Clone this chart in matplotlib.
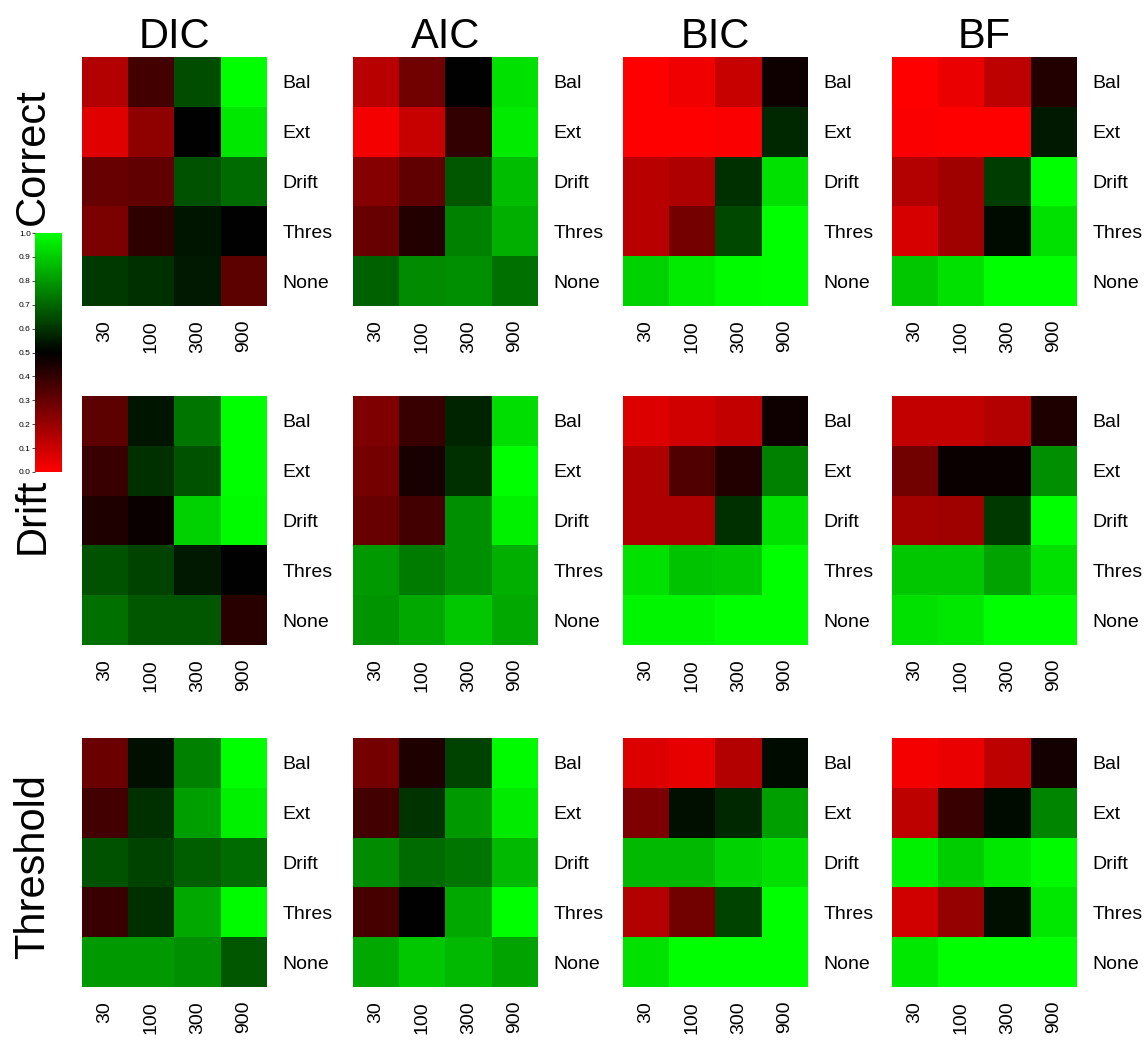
import matplotlib
matplotlib.use('Agg')
import matplotlib.pyplot as plt
import numpy as np
from matplotlib.colors import LinearSegmentedColormap

plt.rcParams['font.family'] = ['Liberation Sans', 'DejaVu Sans']

criteria = ['DIC', 'AIC', 'BIC', 'BF']
scenarios = ['Correct', 'Drift', 'Threshold']
models = ['Bal', 'Ext', 'Drift', 'Thres', 'None']
sizes = ['30', '100', '300', '900']

# proportion chosen, rows = models, cols = sizes
dic_correct = [[0.15, 0.37, 0.65, 1.00],
               [0.06, 0.22, 0.50, 0.95],
               [0.30, 0.31, 0.66, 0.71],
               [0.26, 0.41, 0.54, 0.50],
               [0.61, 0.59, 0.55, 0.32]]
aic_correct = [[0.14, 0.28, 0.50, 0.94],
               [0.02, 0.11, 0.40, 0.96],
               [0.24, 0.31, 0.67, 0.87],
               [0.30, 0.43, 0.75, 0.84],
               [0.69, 0.77, 0.78, 0.72]]
bic_correct = [[0.00, 0.03, 0.11, 0.47],
               [0.00, 0.00, 0.01, 0.58],
               [0.14, 0.16, 0.59, 0.94],
               [0.14, 0.27, 0.64, 1.00],
               [0.91, 0.96, 0.99, 1.00]]
bf_correct = [[0.00, 0.04, 0.13, 0.43],
              [0.01, 0.00, 0.00, 0.55],
              [0.15, 0.19, 0.62, 1.00],
              [0.08, 0.19, 0.52, 0.94],
              [0.89, 0.94, 1.00, 1.00]]

dic_drift = [[0.32, 0.54, 0.73, 1.00],
             [0.39, 0.59, 0.66, 1.00],
             [0.44, 0.48, 0.91, 0.99],
             [0.66, 0.63, 0.55, 0.50],
             [0.72, 0.67, 0.67, 0.42]]
aic_drift = [[0.25, 0.39, 0.57, 0.93],
             [0.27, 0.45, 0.59, 1.00],
             [0.30, 0.37, 0.78, 0.97],
             [0.80, 0.74, 0.78, 0.84],
             [0.79, 0.83, 0.89, 0.83]]
bic_drift = [[0.07, 0.09, 0.12, 0.47],
             [0.16, 0.34, 0.43, 0.75],
             [0.16, 0.16, 0.59, 0.94],
             [0.94, 0.88, 0.89, 1.00],
             [0.98, 0.98, 1.00, 1.00]]
bf_drift = [[0.12, 0.12, 0.15, 0.44],
            [0.28, 0.48, 0.48, 0.78],
            [0.18, 0.19, 0.61, 1.00],
            [0.89, 0.89, 0.82, 0.94],
            [0.94, 0.95, 1.00, 1.00]]

dic_thres = [[0.29, 0.53, 0.75, 1.00],
             [0.37, 0.59, 0.81, 0.97],
             [0.66, 0.63, 0.68, 0.71],
             [0.39, 0.59, 0.83, 0.99],
             [0.80, 0.80, 0.78, 0.67]]
aic_thres = [[0.27, 0.44, 0.63, 0.99],
             [0.37, 0.60, 0.80, 0.96],
             [0.77, 0.71, 0.73, 0.86],
             [0.36, 0.50, 0.83, 1.00],
             [0.83, 0.89, 0.86, 0.82]]
bic_thres = [[0.07, 0.05, 0.15, 0.52],
             [0.25, 0.53, 0.58, 0.81],
             [0.86, 0.86, 0.91, 0.94],
             [0.15, 0.28, 0.63, 1.00],
             [0.94, 1.00, 1.00, 1.00]]
bf_thres = [[0.02, 0.04, 0.13, 0.46],
            [0.13, 0.39, 0.52, 0.76],
            [0.97, 0.90, 0.95, 0.99],
            [0.09, 0.21, 0.53, 0.95],
            [0.95, 1.00, 1.00, 1.00]]

grid = [[dic_correct, aic_correct, bic_correct, bf_correct],
        [dic_drift, aic_drift, bic_drift, bf_drift],
        [dic_thres, aic_thres, bic_thres, bf_thres]]

cmap = LinearSegmentedColormap.from_list('rbg', [(1, 0, 0), (0, 0, 0), (0, 1, 0)])

W, H = 1146, 1041
fig = plt.figure(figsize=(W / 100, H / 100), dpi=100)

lefts = [82, 353, 623, 892]
tops = [57, 396, 738]
pw, ph = 185, 249

for i, row in enumerate(grid):
    for j, vals in enumerate(row):
        ax = fig.add_axes([lefts[j] / W, 1 - (tops[i] + ph) / H, pw / W, ph / H])
        im = ax.imshow(np.array(vals), cmap=cmap, vmin=0, vmax=1, aspect='auto',
                       interpolation='nearest')
        ax.set_xticks(range(len(sizes)))
        ax.set_xticklabels(sizes, rotation=90, fontsize=14)
        ax.set_yticks(range(len(models)))
        ax.set_yticklabels(models, fontsize=14)
        ax.yaxis.tick_right()
        ax.tick_params(axis='both', length=0)
        ax.tick_params(axis='x', pad=10)
        ax.tick_params(axis='y', pad=11)
        for s in ax.spines.values():
            s.set_visible(False)
        if i == 0:
            ax.set_title(criteria[j], fontsize=30, pad=4)

# row labels
row_centers = [157, 516, 867]
for name, yc in zip(scenarios, row_centers):
    fig.text(33 / W, 1 - yc / H, name, rotation=90, fontsize=30,
             ha='center', va='center')

# colour key
cax = fig.add_axes([35 / W, 1 - 472 / H, 27 / W, 239 / H])
cb = fig.colorbar(im, cax=cax, ticks=np.arange(0, 1.01, 0.1))
cb.ax.yaxis.set_ticks_position('left')
cb.ax.set_yticklabels([f'{t:.1f}' for t in np.arange(0, 1.01, 0.1)])
cb.ax.tick_params(labelsize=6, length=2, width=0.5, pad=1)
cb.outline.set_visible(False)

fig.savefig('out.png', dpi=100)
